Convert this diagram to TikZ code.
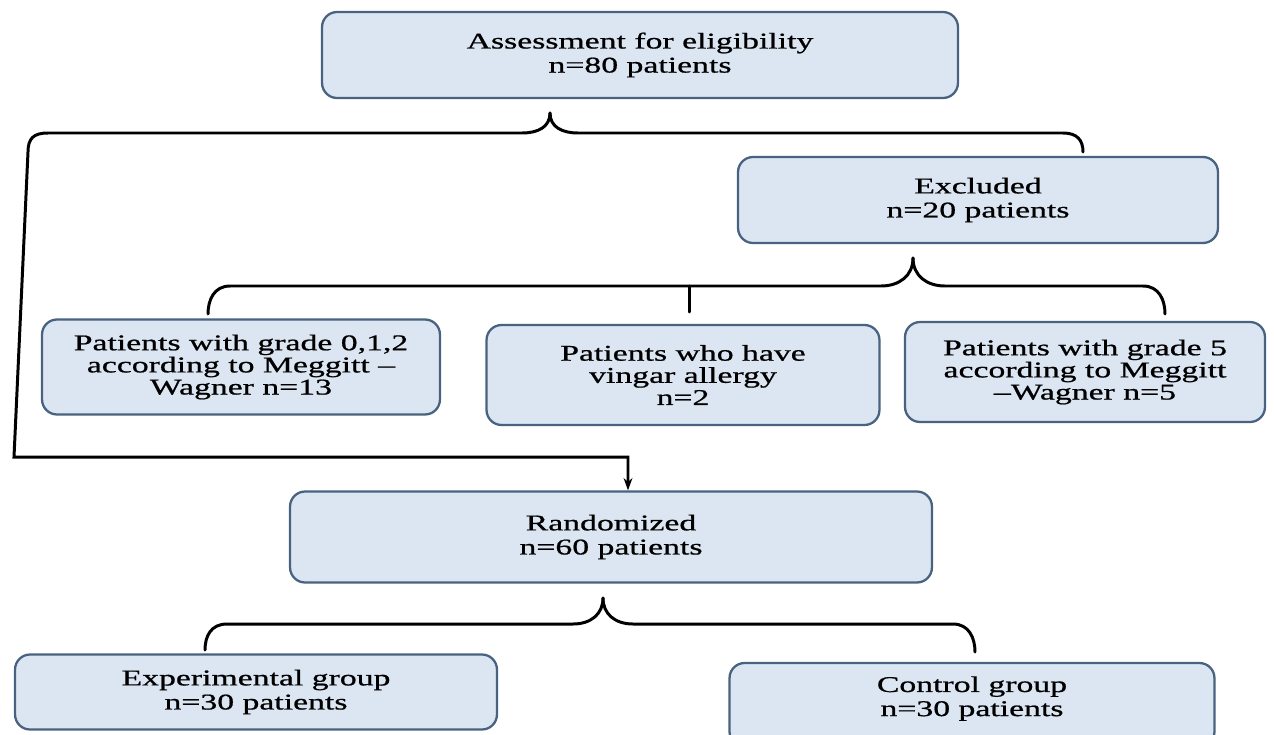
\documentclass[tikz,border=0pt]{standalone}
\usepackage{fontspec}
\setmainfont{Liberation Serif}[FakeStretch=1.5, FakeBold=0.8]
\usetikzlibrary{arrows.meta}
\definecolor{boxfill}{RGB}{220,230,242}
\definecolor{boxline}{RGB}{72,98,128}
\tikzset{
  flowbox/.style={draw=boxline, fill=boxfill, line width=1.3pt, rounded corners=0.3cm, align=center, inner sep=2pt},
  bigtext/.style={font=\fontsize{12.8}{13.7}\selectfont},
  smalltext/.style={font=\fontsize{12.8}{12.6}\selectfont},
  brace/.style={draw=black, line width=1.7pt, line cap=round},
}

\begin{document}
\begin{tikzpicture}[x=0.02cm, y=-0.02cm]
  \useasboundingbox (0,0) rectangle (1274,734);
  % boxes
  \node[flowbox, bigtext, minimum width=12.72cm, minimum height=1.72cm] (assess) at (640,55) {Assessment for eligibility\\n=80 patients};
  \node[flowbox, bigtext, minimum width=9.6cm, minimum height=1.72cm] (excl) at (978,200) {Excluded\\n=20 patients};
  \node[flowbox, smalltext, minimum width=7.96cm, minimum height=1.9cm] (g012) at (241,367) {Patients with grade 0,1,2\\according to Meggitt –\\Wagner n=13};
  \node[flowbox, smalltext, minimum width=7.86cm, minimum height=2cm] (vin) at (683,375) {Patients who have\\vingar allergy\\n=2};
  \node[flowbox, smalltext, minimum width=7.2cm, minimum height=2cm] (g5) at (1085,372) {Patients with grade 5\\according to Meggitt\\–Wagner n=5};
  \node[flowbox, bigtext, minimum width=12.84cm, minimum height=1.82cm] (rand) at (611,537) {Randomized\\n=60 patients};
  \node[flowbox, bigtext, minimum width=9.64cm, minimum height=1.5cm] (exp) at (256,692) {Experimental group\\n=30 patients};
  \node[flowbox, bigtext, minimum width=9.7cm, minimum height=1.68cm, text depth=10pt] (ctrl) at (972,705) {Control group\\n=30 patients};
  % brace ends
  \coordinate (tipA) at (550,113);
  \coordinate (endA) at (1083,152);
  \coordinate (tipB) at (913,258);
  \coordinate (endBl) at (208,314);
  \coordinate (endBr) at (1165,314);
  \coordinate (tickB) at (689,312);
  \coordinate (tipC) at (603,598);
  \coordinate (endCl) at (205,650);
  \coordinate (endCr) at (975,652);
  % assessment brace
  \draw[brace, -{Stealth[length=7pt, width=5pt]}] (tipA) .. controls +(0,14) and +(16,0) .. ++(-28,20)
    -- (48,133) .. controls +(-14,0) and +(0,-14) .. (28,152)
    -- (14,457) -| ([xshift=0.34cm]rand.north);
  \draw[brace] (tipA) .. controls +(0,14) and +(-16,0) .. ++(28,20)
    -- (1063,133) .. controls +(14,0) and +(0,-12) .. (endA);
  % excluded brace
  \draw[brace] (tipB) .. controls +(0,18) and +(18,0) .. ++(-32,28)
    -- (230,286) .. controls +(-16,0) and +(0,-14) .. (endBl);
  \draw[brace] (tipB) .. controls +(0,18) and +(-18,0) .. ++(32,28)
    -- (1143,286) .. controls +(16,0) and +(0,-14) .. (endBr);
  \draw[brace] (tickB) -- +(0,-26);
  % randomized brace
  \draw[brace] (tipC) .. controls +(0,16) and +(18,0) .. ++(-30,26)
    -- (227,624) .. controls +(-16,0) and +(0,-14) .. (endCl);
  \draw[brace] (tipC) .. controls +(0,16) and +(-18,0) .. ++(30,26)
    -- (953,624) .. controls +(16,0) and +(0,-14) .. (endCr);
\end{tikzpicture}
\end{document}
